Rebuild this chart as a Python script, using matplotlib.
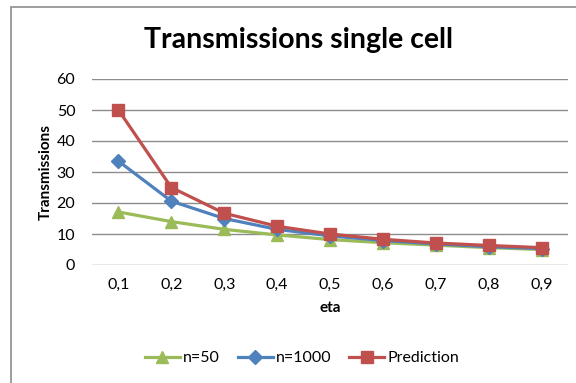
import matplotlib.pyplot as plt
from matplotlib.patches import Rectangle

plt.rcParams['font.family'] = ['Lato', 'DejaVu Sans']

eta = ['0,1', '0,2', '0,3', '0,4', '0,5', '0,6', '0,7', '0,8', '0,9']
n50 = [17.1, 14.0, 11.5, 9.7, 8.2, 7.2, 6.4, 5.6, 5.0]
n1000 = [33.5, 20.6, 15.0, 11.5, 9.4, 7.9, 6.8, 5.9, 5.3]
prediction = [50.0, 25.0, 16.7, 12.5, 10.0, 8.3, 7.1, 6.3, 5.6]
yticks = [0, 10, 20, 30, 40, 50, 60]

W, H = 576, 383
fig = plt.figure(figsize=(W / 100, H / 100), dpi=100)
fig.patch.set_facecolor('white')

# outer chart frame (open to the right and bottom)
fig.patches.append(Rectangle((11 / W, -0.1), 1.2, 1.1 - 7 / H, transform=fig.transFigure,
                             fill=False, edgecolor='#8c8c8c', linewidth=1.2))

ax = fig.add_axes([92 / W, 1 - 265 / H, (568 - 92) / W, (265 - 79) / H])
x = range(len(eta))
ax.plot(x, n50, color='#9BBB59', lw=2.3, marker='^', ms=8.5, label='n=50', zorder=3)
ax.plot(x, n1000, color='#4F81BD', lw=2.3, marker='D', ms=7, label='n=1000', zorder=4)
ax.plot(x, prediction, color='#C0504D', lw=2.3, marker='s', ms=9, label='Prediction', zorder=5)

ax.set_xlim(-0.5, len(eta) - 0.5)
ax.set_ylim(0, 60)
ax.set_yticks(yticks)
ax.set_xticks(list(x))
ax.set_xticklabels(eta)
ax.grid(axis='y', color='#8c8c8c', lw=1)
ax.set_axisbelow(True)
for s in ax.spines.values():
    s.set_visible(False)
ax.tick_params(length=0, labelsize=11.5, colors='#000000')
ax.tick_params(axis='y', pad=12)
ax.tick_params(axis='x', pad=9)

ax.set_ylabel('Transmissions', fontsize=11, fontweight='bold', labelpad=3)
ax.set_xlabel('eta', fontsize=11, fontweight='bold', labelpad=7)
fig.text(298 / W, 1 - 40 / H, 'Transmissions single cell', ha='center', va='center',
         fontsize=20.5, fontweight='bold')

fig.legend(loc='center', bbox_to_anchor=(302 / W, 1 - 358 / H), ncol=3, frameon=False,
           fontsize=11.5, handlelength=2.2, handletextpad=0.2, columnspacing=1.1)

fig.savefig('out.png', dpi=100)
